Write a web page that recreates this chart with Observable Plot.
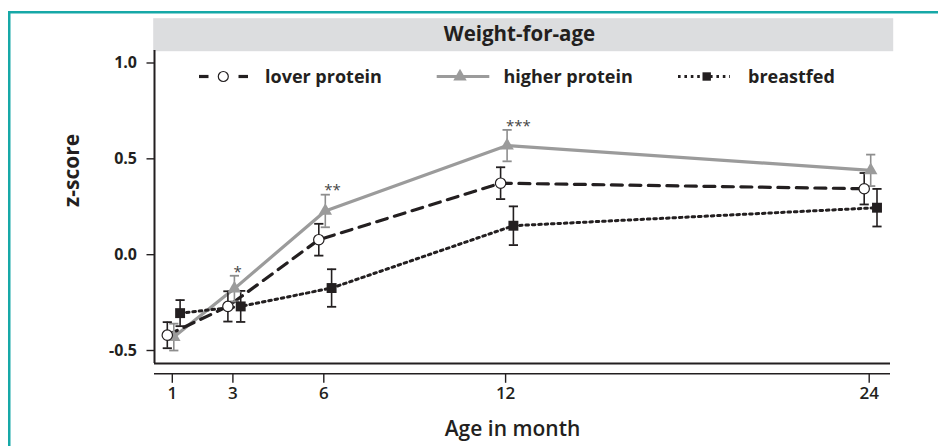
<!DOCTYPE html>
<html><head><meta charset="utf-8">
<script src="https://cdn.jsdelivr.net/npm/d3@7"></script>
<script src="https://cdn.jsdelivr.net/npm/@observablehq/plot@0.6"></script>
<style>body{margin:0;background:#fff;} #chart svg{display:block;}</style>
</head><body><div id="chart"></div>
<script>
// ---- data ----
const months = [1, 3, 6, 12, 24];
const xTicks = [1, 3, 6, 12, 24];
const yTicks = [-0.5, 0, 0.5, 1.0];
const seriesNames = ["lover protein", "higher protein", "breastfed"];
const lowerMean = [-0.42, -0.27, 0.078, 0.373, 0.344];
const lowerSE   = [0.068, 0.079, 0.083, 0.083, 0.082];
const higherMean = [-0.43, -0.177, 0.228, 0.569, 0.44];
const higherSE   = [0.07, 0.067, 0.085, 0.082, 0.082];
const breastMean = [-0.305, -0.27, -0.174, 0.151, 0.245];
const breastSE   = [0.068, 0.081, 0.098, 0.101, 0.098];
const stars = ["", "*", "**", "***", ""];
const titleText = "Weight-for-age";
const xLabel = "Age in month";
const yLabel = "z-score";

// ---- layout / style ----
const xDomain = [0.4125, 24.703];
const yDomain = [-0.5678, 1.0652];
const ink = "#231f20", grey = "#9b9b9b", greyBar = "#8e8e8e";
const font = "Open Sans";
const dots = "2.6,3.8";

const rows = (mean, se) => months.map((m, i) => ({month: m, mean: mean[i], lo: mean[i] - se[i], hi: mean[i] + se[i], star: stars[i]}));
const lower = rows(lowerMean, lowerSE);
const higher = rows(higherMean, higherSE);
const breast = rows(breastMean, breastSE);

const dxL = -5, dxH = 1.5, dxB = 7.8;
const cap = {draw(ctx) { ctx.moveTo(-4.6, 0); ctx.lineTo(4.6, 0); }};

function errorMarks(data, color, dx) {
  return [
    Plot.ruleX(data, {x: "month", y1: "lo", y2: "hi", stroke: color, strokeWidth: 1.6, dx}),
    Plot.dot(data, {x: "month", y: "lo", symbol: cap, stroke: color, fill: "none", strokeWidth: 1.8, dx}),
    Plot.dot(data, {x: "month", y: "hi", symbol: cap, stroke: color, fill: "none", strokeWidth: 1.8, dx})
  ];
}

const plot = Plot.plot({
  width: 938, height: 446,
  marginLeft: 154, marginRight: 48, marginTop: 50, marginBottom: 83,
  style: {fontFamily: font, color: ink, background: "white"},
  x: {domain: xDomain},
  y: {domain: yDomain},
  marks: [
    // grey title strip
    Plot.frame({fill: "#dcdddf", stroke: null, insetTop: -32.3, insetBottom: 312.3, insetLeft: -1.3, insetRight: -2.7}),
    Plot.text([titleText], {frameAnchor: "top", dy: -16, dx: -3, fontSize: 20.5, fontWeight: 700, fill: ink, lineAnchor: "middle"}),
    // frame lines
    Plot.ruleX([xDomain[0]], {stroke: ink, strokeWidth: 2}),
    Plot.ruleY([yDomain[0]], {stroke: ink, strokeWidth: 2.2}),
    Plot.ruleY([yDomain[0]], {stroke: ink, strokeWidth: 1.6, dy: 10.3}),
    Plot.axisY({ticks: yTicks, tickFormat: d => d.toFixed(1), tickSize: 7.5, tickPadding: 10, fontSize: 16, fontWeight: 700, label: null, stroke: ink, strokeWidth: 1.4}),
    Plot.axisX({ticks: xTicks, tickFormat: d => d, tickSize: 9.5, tickPadding: 3.5, dy: 10.3, fontSize: 17, fontWeight: 600, label: null, stroke: ink, strokeWidth: 1.4}),
    Plot.text([xLabel], {frameAnchor: "bottom", dy: 66, dx: -10, fontSize: 21, fontWeight: 600, fill: ink, lineAnchor: "middle"}),
    Plot.text([yLabel], {frameAnchor: "left", dx: -82.5, rotate: -90, fontSize: 21, fontWeight: 700, fill: ink, lineAnchor: "middle"}),
    // lines
    Plot.line(higher, {x: "month", y: "mean", stroke: grey, strokeWidth: 3.2, dx: dxH}),
    Plot.line(lower, {x: "month", y: "mean", stroke: ink, strokeWidth: 3.2, strokeDasharray: "11,7.5", dx: dxL}),
    Plot.line(breast, {x: "month", y: "mean", stroke: ink, strokeWidth: 3, strokeDasharray: dots, dx: dxB}),
    // error bars
    ...errorMarks(higher, greyBar, dxH),
    ...errorMarks(lower, ink, dxL),
    ...errorMarks(breast, ink, dxB),
    // markers
    Plot.dot(higher, {x: "month", y: "mean", symbol: "triangle", r: 5, fill: grey, stroke: null, dx: dxH}),
    Plot.dot(lower, {x: "month", y: "mean", symbol: "circle", r: 5.2, fill: "white", stroke: ink, strokeWidth: 1.2, dx: dxL}),
    Plot.dot(breast, {x: "month", y: "mean", symbol: "square", r: 5.6, fill: ink, stroke: null, dx: dxB}),
    // significance stars
    Plot.text(higher.filter(d => d.star), {x: "month", y: "hi", text: "star", textAnchor: "start", lineAnchor: "middle", dx: dxH - 1, dy: -4, fontSize: 15, fill: "#444"})
  ]
});

document.getElementById("chart").appendChild(plot);

// ---- decorations: teal border and legend ----
const svg = d3.select(plot);
const teal = "#16a8a7";
svg.append("rect").attr("x", 8).attr("y", 11).attr("width", 930).attr("height", 2.5).attr("fill", teal);
svg.append("rect").attr("x", 8).attr("y", 11).attr("width", 2.5).attr("height", 435).attr("fill", teal);

const yL = 76.5;
const lg = svg.append("g").attr("font-family", font).attr("font-weight", 700).attr("font-size", 18).attr("fill", ink).attr("text-anchor", "start");
// lower protein
lg.append("line").attr("x1", 199).attr("x2", 208.5).attr("y1", yL).attr("y2", yL).attr("stroke", ink).attr("stroke-width", 3.2);
lg.append("line").attr("x1", 238.5).attr("x2", 248).attr("y1", yL).attr("y2", yL).attr("stroke", ink).attr("stroke-width", 3.2);
lg.append("circle").attr("cx", 223.3).attr("cy", yL).attr("r", 5).attr("fill", "white").attr("stroke", ink).attr("stroke-width", 1.2);
lg.append("text").attr("x", 265).attr("y", yL).attr("dy", "0.35em").text(seriesNames[0]);
// higher protein
lg.append("line").attr("x1", 436.7).attr("x2", 489.3).attr("y1", yL).attr("y2", yL).attr("stroke", grey).attr("stroke-width", 3.2);
lg.append("path").attr("d", d3.symbol(d3.symbolTriangle, Math.PI * 25)()).attr("transform", `translate(460,${yL})`).attr("fill", grey);
lg.append("text").attr("x", 503.5).attr("y", yL).attr("dy", "0.35em").text(seriesNames[1]);
// breastfed
lg.append("line").attr("x1", 678).attr("x2", 730).attr("y1", yL).attr("y2", yL).attr("stroke", ink).attr("stroke-width", 3).attr("stroke-dasharray", dots);
lg.append("rect").attr("x", 702.5).attr("y", yL - 4.2).attr("width", 8.4).attr("height", 8.4).attr("fill", ink);
lg.append("text").attr("x", 748).attr("y", yL).attr("dy", "0.35em").text(seriesNames[2]);
</script>
</body></html>
